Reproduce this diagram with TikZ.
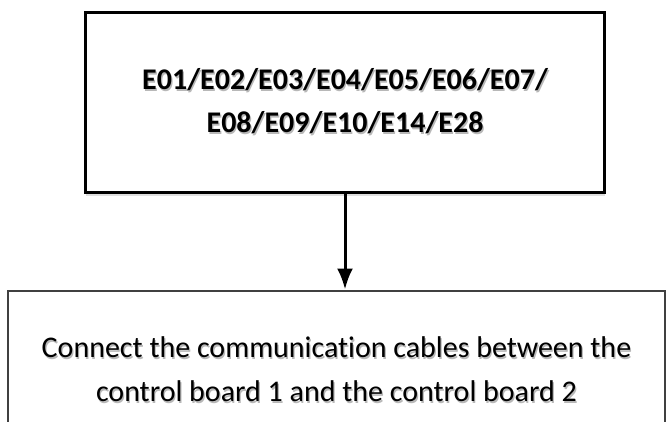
\documentclass[tikz,border=0pt]{standalone}
\usepackage{fontspec}
\setmainfont[Ligatures=NoCommon]{Carlito}
\usetikzlibrary{arrows.meta,shadows}
\newcommand{\shadowed}[1]{\makebox[0pt][l]{\hspace{1.2bp}\raisebox{-2.2bp}{\textcolor{black!28}{#1}}}#1}
\tikzset{
  errbox/.style={draw=black, line width=3bp, fill=white, minimum width=519bp, minimum height=180bp,
    align=center, font=\fontsize{30bp}{43bp}\selectfont\bfseries,
    drop shadow={shadow xshift=0.5bp, shadow yshift=-3bp, opacity=0.25}},
  stepbox/.style={draw=black!75, line width=2bp, fill=white, minimum width=657bp, minimum height=160bp,
    align=center, font=\fontsize{30bp}{44bp}\selectfont,
    drop shadow={shadow xshift=0.5bp, shadow yshift=-3bp, opacity=0.2}},
}
\begin{document}
\begin{tikzpicture}[x=1bp, y=-1bp]
  \useasboundingbox (0, 0) rectangle (670, 421);
  \clip (0, 0) rectangle (670, 421);
  \node[errbox] (codes) at (345, 102.5) {\shadowed{E01/E02/E03/E04/E05/E06/E07/}\\ \shadowed{E08/E09/E10/E14/E28}};
  \node[stepbox] (cable) at (336.5, 370.5) {\shadowed{Connect the communication cables between the}\\ \shadowed{control board 1 and the control board 2}};
  \draw[line width=3bp, -{Latex[length=21bp, width=16bp]}] (codes.south) -- (codes.south |- cable.north);
\end{tikzpicture}
\end{document}
